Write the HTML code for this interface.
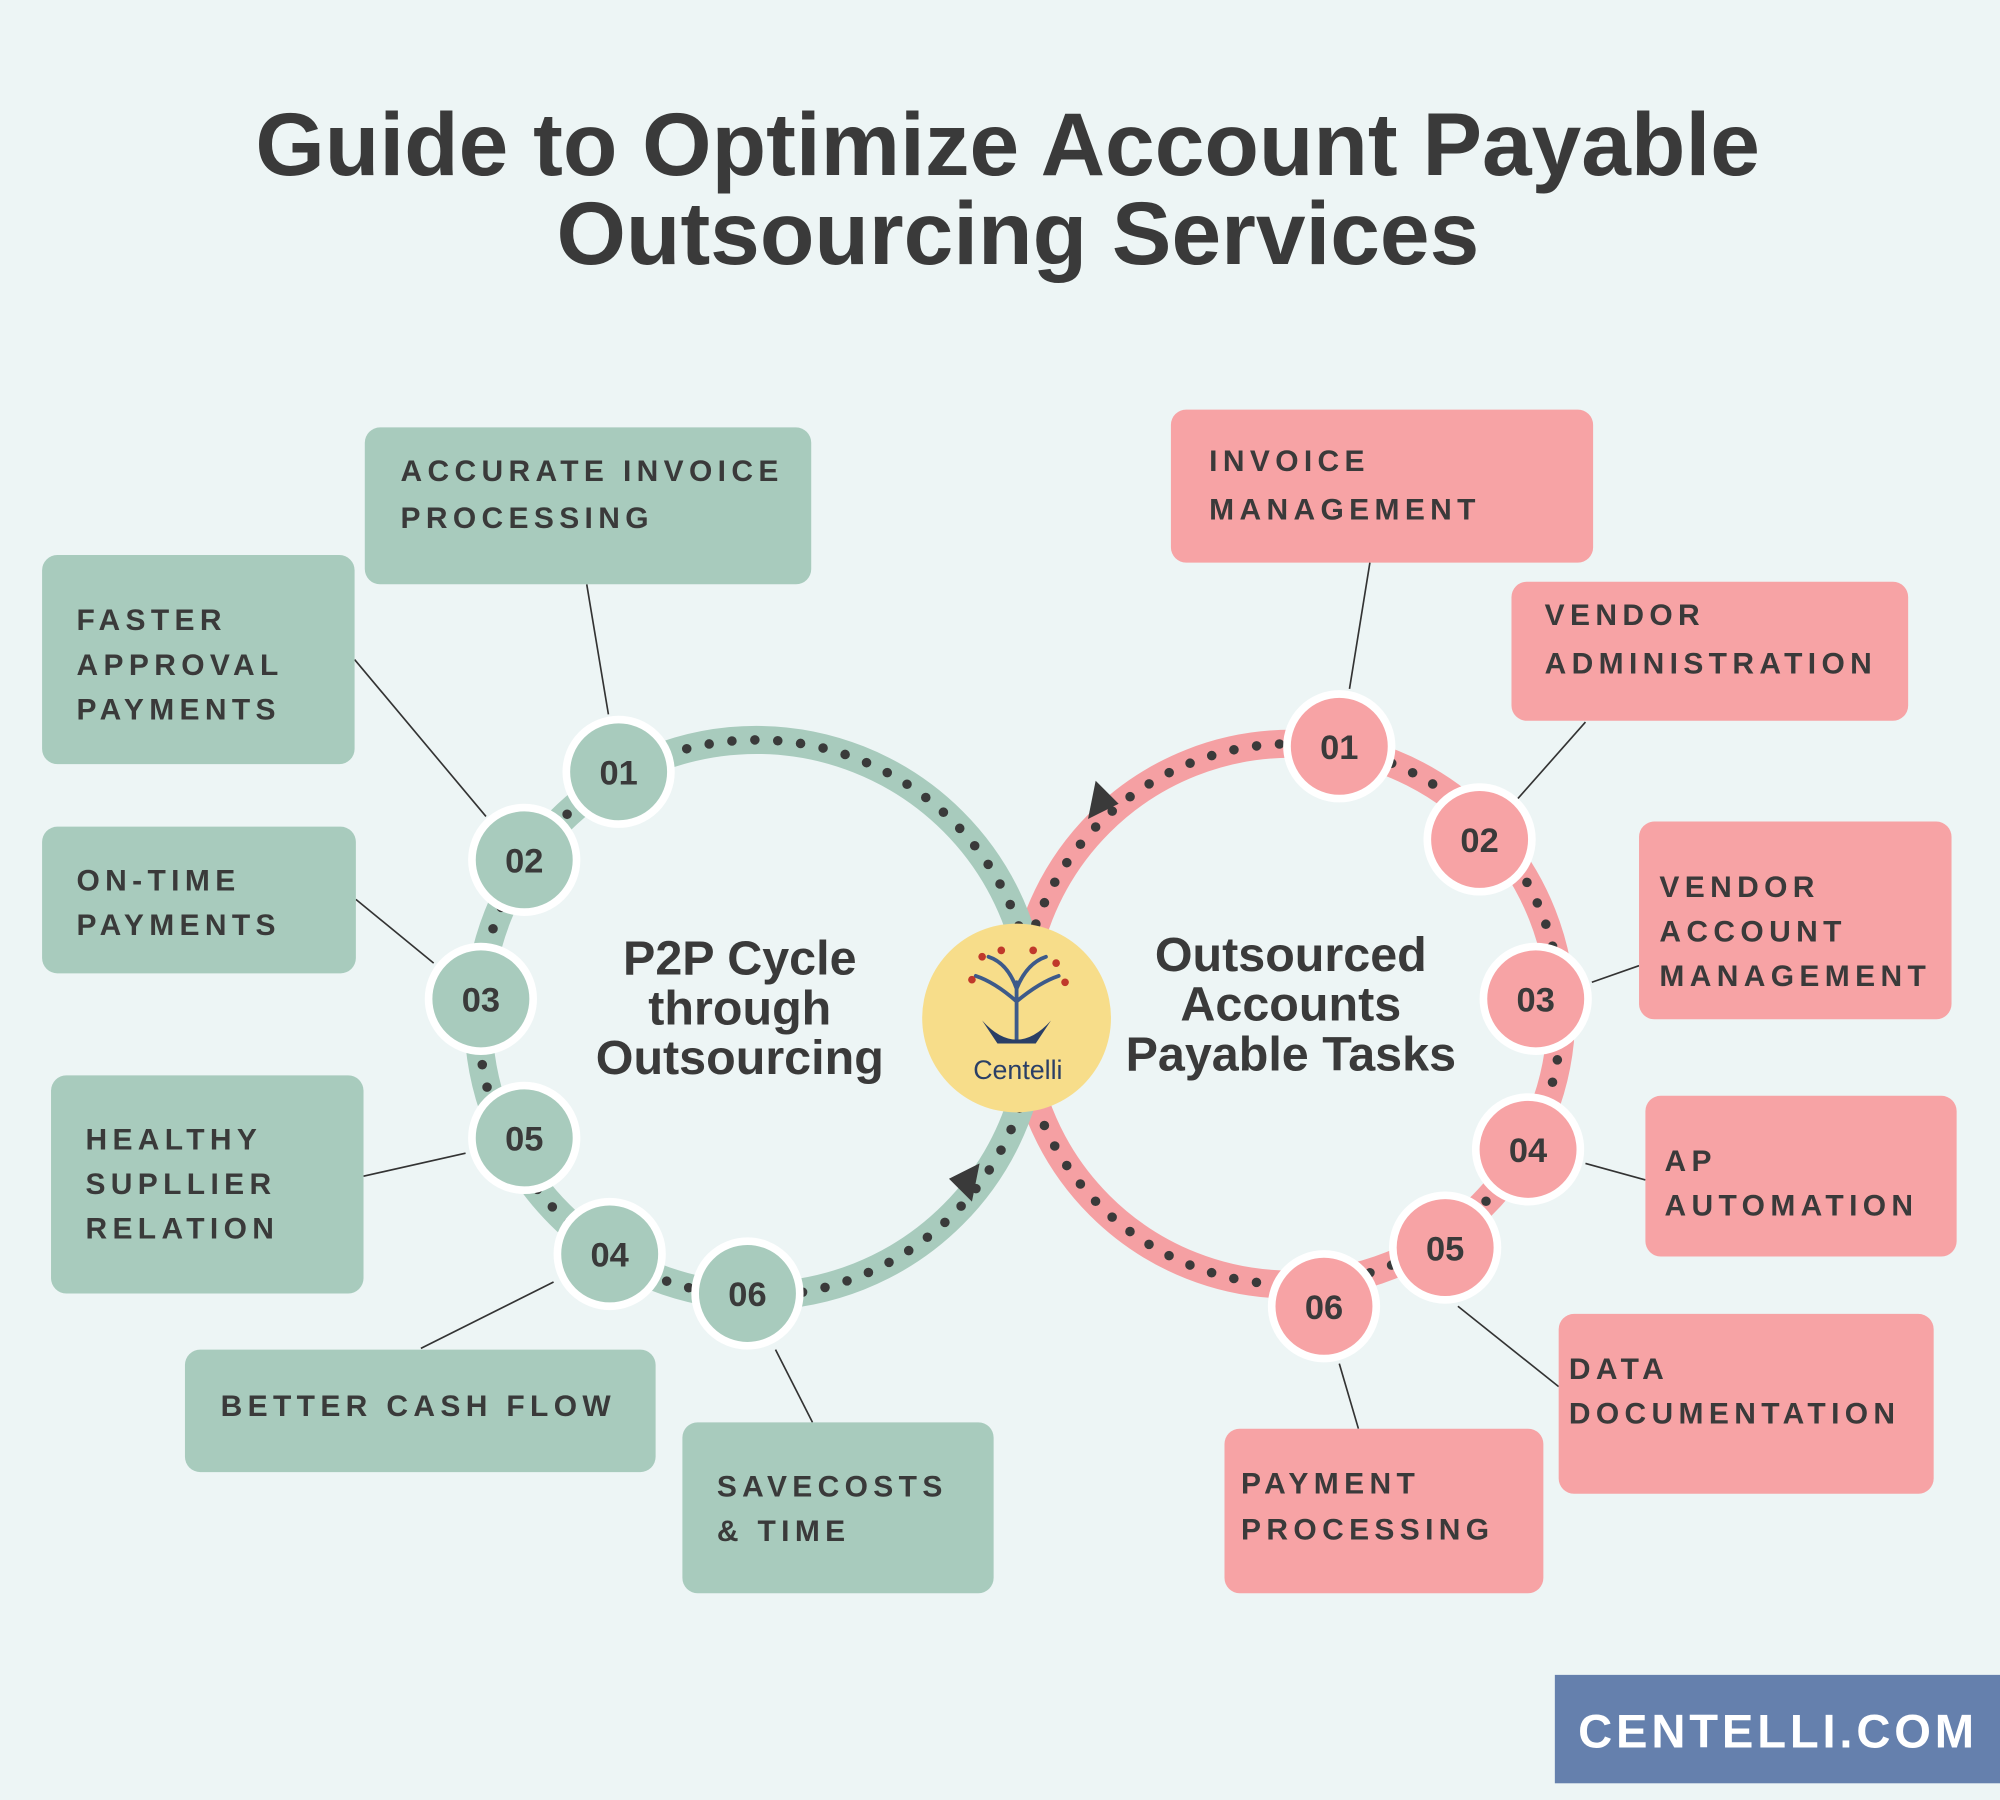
<!DOCTYPE html>
<html><head><meta charset="utf-8"><style>
html,body{margin:0;padding:0;background:#edf5f5;}
svg{display:block;}
text{font-family:"Liberation Sans",sans-serif;font-weight:700;fill:#3a3a3a;}
.lb{font-size:23.5px;letter-spacing:4.2px;}
.nm{font-size:27px;text-anchor:middle;}
.ct{font-size:38px;text-anchor:middle;}
</style></head><body>
<svg width="2000" height="1800" viewBox="0 0 1568 1411" xmlns="http://www.w3.org/2000/svg">
<rect width="1568" height="1411" fill="#edf5f5"/>
<text x="790" y="137" text-anchor="middle" font-size="70">Guide to Optimize Account Payable</text>
<text x="798" y="207" text-anchor="middle" font-size="70">Outsourcing Services</text>

<g stroke="#333" stroke-width="1.3">
<line x1="460" y1="458" x2="477" y2="560"/>
<line x1="278" y1="517" x2="381" y2="640"/>
<line x1="279" y1="705" x2="340" y2="755"/>
<line x1="285" y1="922" x2="365" y2="904"/>
<line x1="330" y1="1057" x2="434" y2="1005"/>
<line x1="608" y1="1058" x2="637" y2="1115"/>
<line x1="1074" y1="441" x2="1058" y2="540"/>
<line x1="1243" y1="566" x2="1190" y2="626"/>
<line x1="1285" y1="757" x2="1248" y2="770"/>
<line x1="1290" y1="925" x2="1243" y2="912"/>
<line x1="1222" y1="1087" x2="1143" y2="1024"/>
<line x1="1065" y1="1120" x2="1050" y2="1069"/>
</g>

<circle cx="1012" cy="795" r="212" fill="none" stroke="#f5a0a3" stroke-width="22"/>
<circle cx="593" cy="798" r="218" fill="none" stroke="#a8cbbd" stroke-width="22"/>
<circle cx="1012" cy="795" r="212" fill="none" stroke="#3a3a3a" stroke-width="7.5" stroke-linecap="round" stroke-dasharray="0 18"/>
<circle cx="593" cy="798" r="218" fill="none" stroke="#3a3a3a" stroke-width="7.5" stroke-linecap="round" stroke-dasharray="0 18"/>
<polygon points="768,912 744,924 762,942" fill="#3a3a3a"/>
<polygon points="853,642 877,630 859,612" fill="#3a3a3a"/>

<g fill="#a8cbbd">
<rect x="286" y="335" width="350" height="123" rx="12"/>
<rect x="33" y="435" width="245" height="164" rx="12"/>
<rect x="33" y="648" width="246" height="115" rx="12"/>
<rect x="40" y="843" width="245" height="171" rx="12"/>
<rect x="145" y="1058" width="369" height="96" rx="12"/>
<rect x="535" y="1115" width="244" height="134" rx="12"/>
</g>
<g fill="#f7a3a5">
<rect x="918" y="321" width="331" height="120" rx="12"/>
<rect x="1185" y="456" width="311" height="109" rx="12"/>
<rect x="1285" y="644" width="245" height="155" rx="12"/>
<rect x="1290" y="859" width="244" height="126" rx="12"/>
<rect x="1222" y="1030" width="294" height="141" rx="12"/>
<rect x="960" y="1120" width="250" height="129" rx="12"/>
</g>
<g>
<text x="314" y="377" class="lb">ACCURATE INVOICE</text>
<text x="314" y="414" class="lb">PROCESSING</text>
<text x="60" y="494" class="lb">FASTER</text>
<text x="60" y="529" class="lb">APPROVAL</text>
<text x="60" y="564" class="lb">PAYMENTS</text>
<text x="60" y="698" class="lb">ON-TIME</text>
<text x="60" y="733" class="lb">PAYMENTS</text>
<text x="67" y="901" class="lb">HEALTHY</text>
<text x="67" y="936" class="lb">SUPLLIER</text>
<text x="67" y="971" class="lb">RELATION</text>
<text x="173" y="1110" class="lb">BETTER CASH FLOW</text>
<text x="562" y="1173" class="lb">SAVECOSTS</text>
<text x="562" y="1208" class="lb">&amp; TIME</text>
<text x="948" y="369" class="lb">INVOICE</text>
<text x="948" y="407" class="lb">MANAGEMENT</text>
<text x="1211" y="490" class="lb">VENDOR</text>
<text x="1211" y="528" class="lb">ADMINISTRATION</text>
<text x="1301" y="703" class="lb">VENDOR</text>
<text x="1301" y="738" class="lb">ACCOUNT</text>
<text x="1301" y="773" class="lb">MANAGEMENT</text>
<text x="1305" y="918" class="lb">AP</text>
<text x="1305" y="953" class="lb">AUTOMATION</text>
<text x="1230" y="1081" class="lb">DATA</text>
<text x="1230" y="1116" class="lb">DOCUMENTATION</text>
<text x="973" y="1171" class="lb">PAYMENT</text>
<text x="973" y="1207" class="lb">PROCESSING</text>
</g>

<g stroke="#fff" stroke-width="6" fill="#a8cbbd">
<circle cx="485" cy="605" r="41"/>
<circle cx="411" cy="674" r="41"/>
<circle cx="377" cy="783" r="41"/>
<circle cx="411" cy="892" r="41"/>
<circle cx="478" cy="983" r="41"/>
<circle cx="586" cy="1014" r="41"/>
</g>
<g stroke="#fff" stroke-width="6" fill="#f7a3a5">
<circle cx="1050" cy="585" r="41"/>
<circle cx="1160" cy="658" r="41"/>
<circle cx="1204" cy="783" r="41"/>
<circle cx="1198" cy="901" r="41"/>
<circle cx="1133" cy="978" r="41"/>
<circle cx="1038" cy="1024" r="41"/>
</g>
<g>
<text x="485" y="615" class="nm">01</text>
<text x="411" y="684" class="nm">02</text>
<text x="377" y="793" class="nm">03</text>
<text x="411" y="902" class="nm">05</text>
<text x="478" y="993" class="nm">04</text>
<text x="586" y="1024" class="nm">06</text>
<text x="1050" y="595" class="nm">01</text>
<text x="1160" y="668" class="nm">02</text>
<text x="1204" y="793" class="nm">03</text>
<text x="1198" y="911" class="nm">04</text>
<text x="1133" y="988" class="nm">05</text>
<text x="1038" y="1034" class="nm">06</text>
</g>

<text x="580" y="764" class="ct">P2P Cycle</text>
<text x="580" y="803" class="ct">through</text>
<text x="580" y="842" class="ct">Outsourcing</text>
<text x="1012" y="761" class="ct">Outsourced</text>
<text x="1012" y="800" class="ct">Accounts</text>
<text x="1012" y="839" class="ct">Payable Tasks</text>

<circle cx="797" cy="798" r="74" fill="#f7dd8a"/>
<g stroke="#3d5a8a" stroke-width="3" fill="none" stroke-linecap="round">
<path d="M797 815 L797 770 M797 785 Q780 770 765 765 M797 785 Q815 770 830 765 M797 775 Q790 755 775 750 M797 775 Q805 755 820 750"/>
</g>
<path d="M770 800 Q797 830 824 800 L812 818 L782 818 Z" fill="#2a3f66"/>
<g fill="#c0392b"><circle cx="770" cy="750" r="3"/><circle cx="785" cy="745" r="3"/><circle cx="810" cy="745" r="3"/><circle cx="828" cy="755" r="3"/><circle cx="762" cy="768" r="3"/><circle cx="835" cy="770" r="3"/></g>
<text x="798" y="846" text-anchor="middle" font-size="21" style="font-weight:400;fill:#2a3f66">Centelli</text>

<rect x="1219" y="1313" width="349" height="85" fill="#6580ad"/>
<text x="1394" y="1370" text-anchor="middle" font-size="37" letter-spacing="3" style="fill:#fff">CENTELLI.COM</text>
</svg>
</body></html>
